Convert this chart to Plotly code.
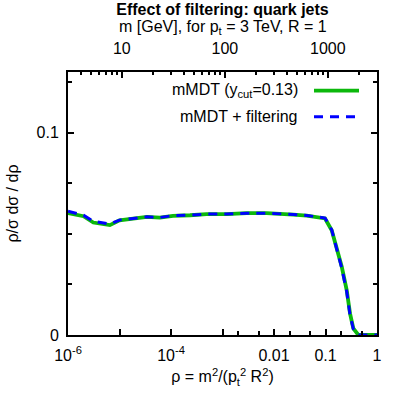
import plotly.graph_objects as go

# rho = m^2/(pt^2 R^2)
rho = [1.0e-6, 2.0e-6, 3.1e-6, 6.5e-6, 1.0e-5, 1.83e-5, 3.4e-5, 6.1e-5,
       1.09e-4, 2.34e-4, 4.9e-4, 1.21e-3, 2.95e-3, 7.2e-3, 0.0131, 0.0237,
       0.0432, 0.098, 0.132, 0.165, 0.207, 0.258, 0.299, 0.347, 0.434, 1.0]
mmdt = [0.0603, 0.0587, 0.0556, 0.0543, 0.0567, 0.0576, 0.0584, 0.0580,
        0.0589, 0.0592, 0.0597, 0.0597, 0.0602, 0.0602, 0.0600, 0.0595,
        0.0590, 0.0576, 0.0518, 0.0436, 0.0337, 0.0222, 0.0107, 0.0033,
        0.0, 0.0]
mmdt_filt = [0.0612, 0.0592, 0.0562, 0.0548, 0.0568, 0.0577, 0.0584, 0.0581,
             0.0590, 0.0592, 0.0598, 0.0598, 0.0602, 0.0602, 0.0600, 0.0596,
             0.0591, 0.0578, 0.0520, 0.0432, 0.0330, 0.0215, 0.0100, 0.0030,
             0.0, 0.0]

rho_ticks = [1e-6, 1e-5, 1e-4, 1e-3, 0.01, 0.1, 1]
rho_labels = ["10<sup>-6</sup>", "", "10<sup>-4</sup>", "", "0.01", "0.1", "1"]
rho_minor = [2e-3, 5e-3, 2e-2, 5e-2, 0.2, 0.5]

m_ticks = [10, 100, 1000]
m_minor = [4, 5, 6, 7, 8, 9, 20, 30, 40, 50, 60, 70, 80, 90,
           200, 300, 400, 500, 600, 700, 800, 900, 2000, 3000]

y_ticks = [0, 0.1]
y_minor = [0.025, 0.05, 0.075, 0.125]

FONT = "Liberation Sans, Arial, sans-serif"
FS = 16
GREEN = "#0cb80c"
BLUE = "#0000ff"

fig = go.Figure()
fig.add_trace(go.Scatter(x=rho, y=mmdt, mode="lines",
                         line=dict(color=GREEN, width=3.8), showlegend=False))
fig.add_trace(go.Scatter(x=rho, y=mmdt_filt, mode="lines",
                         line=dict(color=BLUE, width=3, dash="9px,7px"),
                         showlegend=False))
# empty trace so the top (mass) axis gets drawn
fig.add_trace(go.Scatter(x=m_ticks, y=[None] * len(m_ticks), xaxis="x2",
                         mode="lines", showlegend=False, hoverinfo="skip"))

fig.update_layout(
    width=407, height=407,
    margin=dict(l=68, r=30, t=72, b=72),
    paper_bgcolor="white", plot_bgcolor="white",
    font=dict(family=FONT, size=FS, color="black"),
    title=dict(text="<b>Effect of filtering: quark jets</b>",
               x=0.5, xref="paper", xanchor="center", y=1 - 9 / 407,
               yanchor="middle", yref="container", font=dict(size=FS)),
    xaxis=dict(type="log", range=[-6, 0], tickvals=rho_ticks, ticktext=rho_labels,
               ticks="inside", ticklen=6, tickwidth=1.5, tickcolor="black",
               ticklabelstandoff=5,
               minor=dict(tickvals=rho_minor, ticks="inside", ticklen=4,
                          tickwidth=1.5, tickcolor="black"),
               showline=True, linecolor="black", linewidth=2, mirror=True,
               showgrid=False, zeroline=False, automargin=False,
               title=dict(text="ρ = m<sup>2</sup>/(p<sub>t</sub><sup>2</sup> R<sup>2</sup>)",
                          standoff=8, font=dict(size=FS))),
    xaxis2=dict(type="log", range=[0.4771, 3.4771], overlaying="x", side="top",
                anchor="y", tickvals=m_ticks,
                ticks="inside", ticklen=6, tickwidth=1.5, tickcolor="black",
                ticklabelstandoff=14,
                minor=dict(tickvals=m_minor, ticks="inside", ticklen=3,
                           tickwidth=1.5, tickcolor="black"),
                showline=False, showgrid=False, zeroline=False, automargin=False),
    yaxis=dict(range=[0, 0.13], tickvals=y_ticks, ticktext=["0", "0.1"],
               ticks="inside", ticklen=6, tickwidth=1.5, tickcolor="black",
               ticklabelstandoff=4,
               minor=dict(tickvals=y_minor, ticks="inside", ticklen=4,
                          tickwidth=1.5, tickcolor="black"),
               showline=True, linecolor="black", linewidth=2, mirror="ticks",
               showgrid=False, zeroline=False, automargin=False,
               title=dict(text="ρ/σ dσ / dρ", standoff=14, font=dict(size=FS))),
)

# top axis title, placed by hand so it sits between the title and the m ticks
fig.add_annotation(text="m [GeV], for p<sub>t</sub> = 3 TeV, R = 1",
                   xref="paper", yref="paper", x=0.5, y=1 + (72 - 28) / 263,
                   xanchor="center", yanchor="middle", showarrow=False,
                   font=dict(size=FS))

# gnuplot-style key: text right-aligned, line sample on its right
key_items = [("mMDT (y<sub>cut</sub>=0.13)", GREEN, "solid", 90.7),
             ("mMDT + filtering", BLUE, "9px,7px", 116.7)]
for label, col, dash, ypx in key_items:
    yp = 1 - (ypx - 72) / 263
    fig.add_annotation(text=label, xref="paper", yref="paper", x=(300 - 68) / 309,
                       y=yp, xanchor="right", yanchor="middle", showarrow=False,
                       font=dict(size=FS))
    fig.add_shape(type="line", xref="paper", yref="paper",
                  x0=(314 - 68) / 309, x1=(359 - 68) / 309, y0=yp, y1=yp,
                  line=dict(color=col, width=3.8 if dash == "solid" else 3, dash=dash))

# drop the default 8px body margin so the figure sits at the window's corner
fig.write_html("out.html", config={"displayModeBar": False},
               post_script="document.body.style.margin='0px';")
